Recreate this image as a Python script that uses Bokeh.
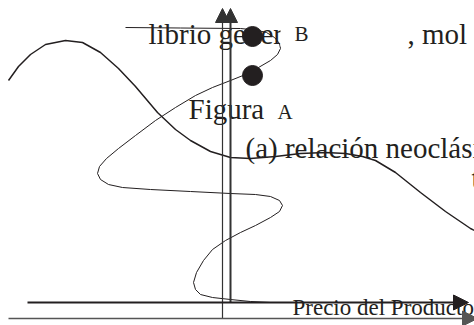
from bokeh.plotting import figure
from bokeh.models import Range1d, Arrow, NormalHead
from bokeh.core.properties import value
from bokeh.embed import file_html
from bokeh.resources import INLINE

# ---- diagram data (page coordinates, y grows downward) ----
wave_x = [8, 18, 30, 45, 65, 82, 100, 118, 135, 157, 175, 190, 210, 230, 250, 275, 300, 325, 345, 362, 375, 395, 420, 445, 470, 480]
wave_y = [80, 66, 54, 44, 40, 42, 52, 68, 86, 112, 129, 140, 151, 157, 158, 156, 153, 152, 153, 156, 160, 172, 192, 211, 228, 233]

snake_x = [125, 180, 240, 255, 266, 274, 279, 280, 277, 270, 258, 245, 230, 212, 195, 175, 155, 135, 118, 106, 99, 97, 100, 108, 122, 150, 190, 230, 255, 270, 279, 282, 279, 270, 255, 240, 225, 212, 203, 196, 193, 195, 200, 212, 230, 250, 270]
snake_y = [27, 27.5, 28, 29.5, 32, 37, 43, 48, 54, 60, 67, 74, 80, 87, 95, 107, 120, 135, 148, 158, 166, 173, 179, 184, 187, 189, 191, 193, 194, 196, 200, 205, 211, 217, 225, 232, 240, 249, 260, 272, 282, 289, 294, 297, 299, 301, 302]

dots_x = [252, 252]
dots_y = [36, 75]

# axes: (x_start, y_start, x_end, y_end, width, color, head size)
axes = [
    (222, 318, 222, 8, 1.2, "#333333", 14),
    (230, 302, 230, 8, 2.0, "#333333", 14),
    (27, 302, 468, 302, 2.0, "#231f20", 15),
    (8, 318, 477, 318, 1.5, "#555555", 15),
]

big_text = ["librio general", ", mol", "Figura", "(a) relación neoclásica", "te"]
big_x = [148, 407, 188, 245, 471]
big_y = [33, 33, 108, 147, 177]

tag_text = ["B", "A"]
tag_x = [294, 277]
tag_y = [33, 111]

axis_text = ["Precio del Producto"]
axis_tx = [292]
axis_ty = [307]

mask_left = [280]
mask_right = [404]
mask_top = [6]
mask_bottom = [46]

p = figure(width=474, height=325, output_backend="svg", toolbar_location=None,
           x_range=Range1d(0, 474), y_range=Range1d(325, 0),
           x_axis_location=None, y_axis_location=None,
           min_border=0, min_border_left=0, min_border_right=0,
           min_border_top=0, min_border_bottom=0)
p.grid.visible = False
p.outline_line_color = None
p.background_fill_color = "white"
p.border_fill_color = "white"

ink = "#231f20"
serif = value("Liberation Serif")

p.line(wave_x, wave_y, line_color=ink, line_width=1.5)
p.line(snake_x, snake_y, line_color=ink, line_width=1.0)

p.text(x=big_x, y=big_y, text=big_text, text_font=serif, text_font_size="29px",
       text_color=ink, text_baseline="alphabetic", text_align="left")
p.quad(left=mask_left, right=mask_right, top=mask_top, bottom=mask_bottom,
       fill_color="white", line_color=None)
p.text(x=tag_x, y=tag_y, text=tag_text, text_font=serif, text_font_size="21px",
       text_color=ink, text_baseline="alphabetic", text_align="left")
p.text(x=axis_tx, y=axis_ty, text=axis_text, text_font=serif, text_font_size="23px",
       text_color=ink, text_baseline="alphabetic", text_align="left")

for xs, ys, xe, ye, w, c, s in axes:
    p.add_layout(Arrow(end=NormalHead(size=s, fill_color=c, line_color=c, line_width=1),
                       x_start=xs, y_start=ys, x_end=xe, y_end=ye,
                       line_color=c, line_width=w))

p.scatter(dots_x, dots_y, size=20, fill_color=ink, line_color=ink)

open("out.html", "w").write(file_html(p, INLINE))
